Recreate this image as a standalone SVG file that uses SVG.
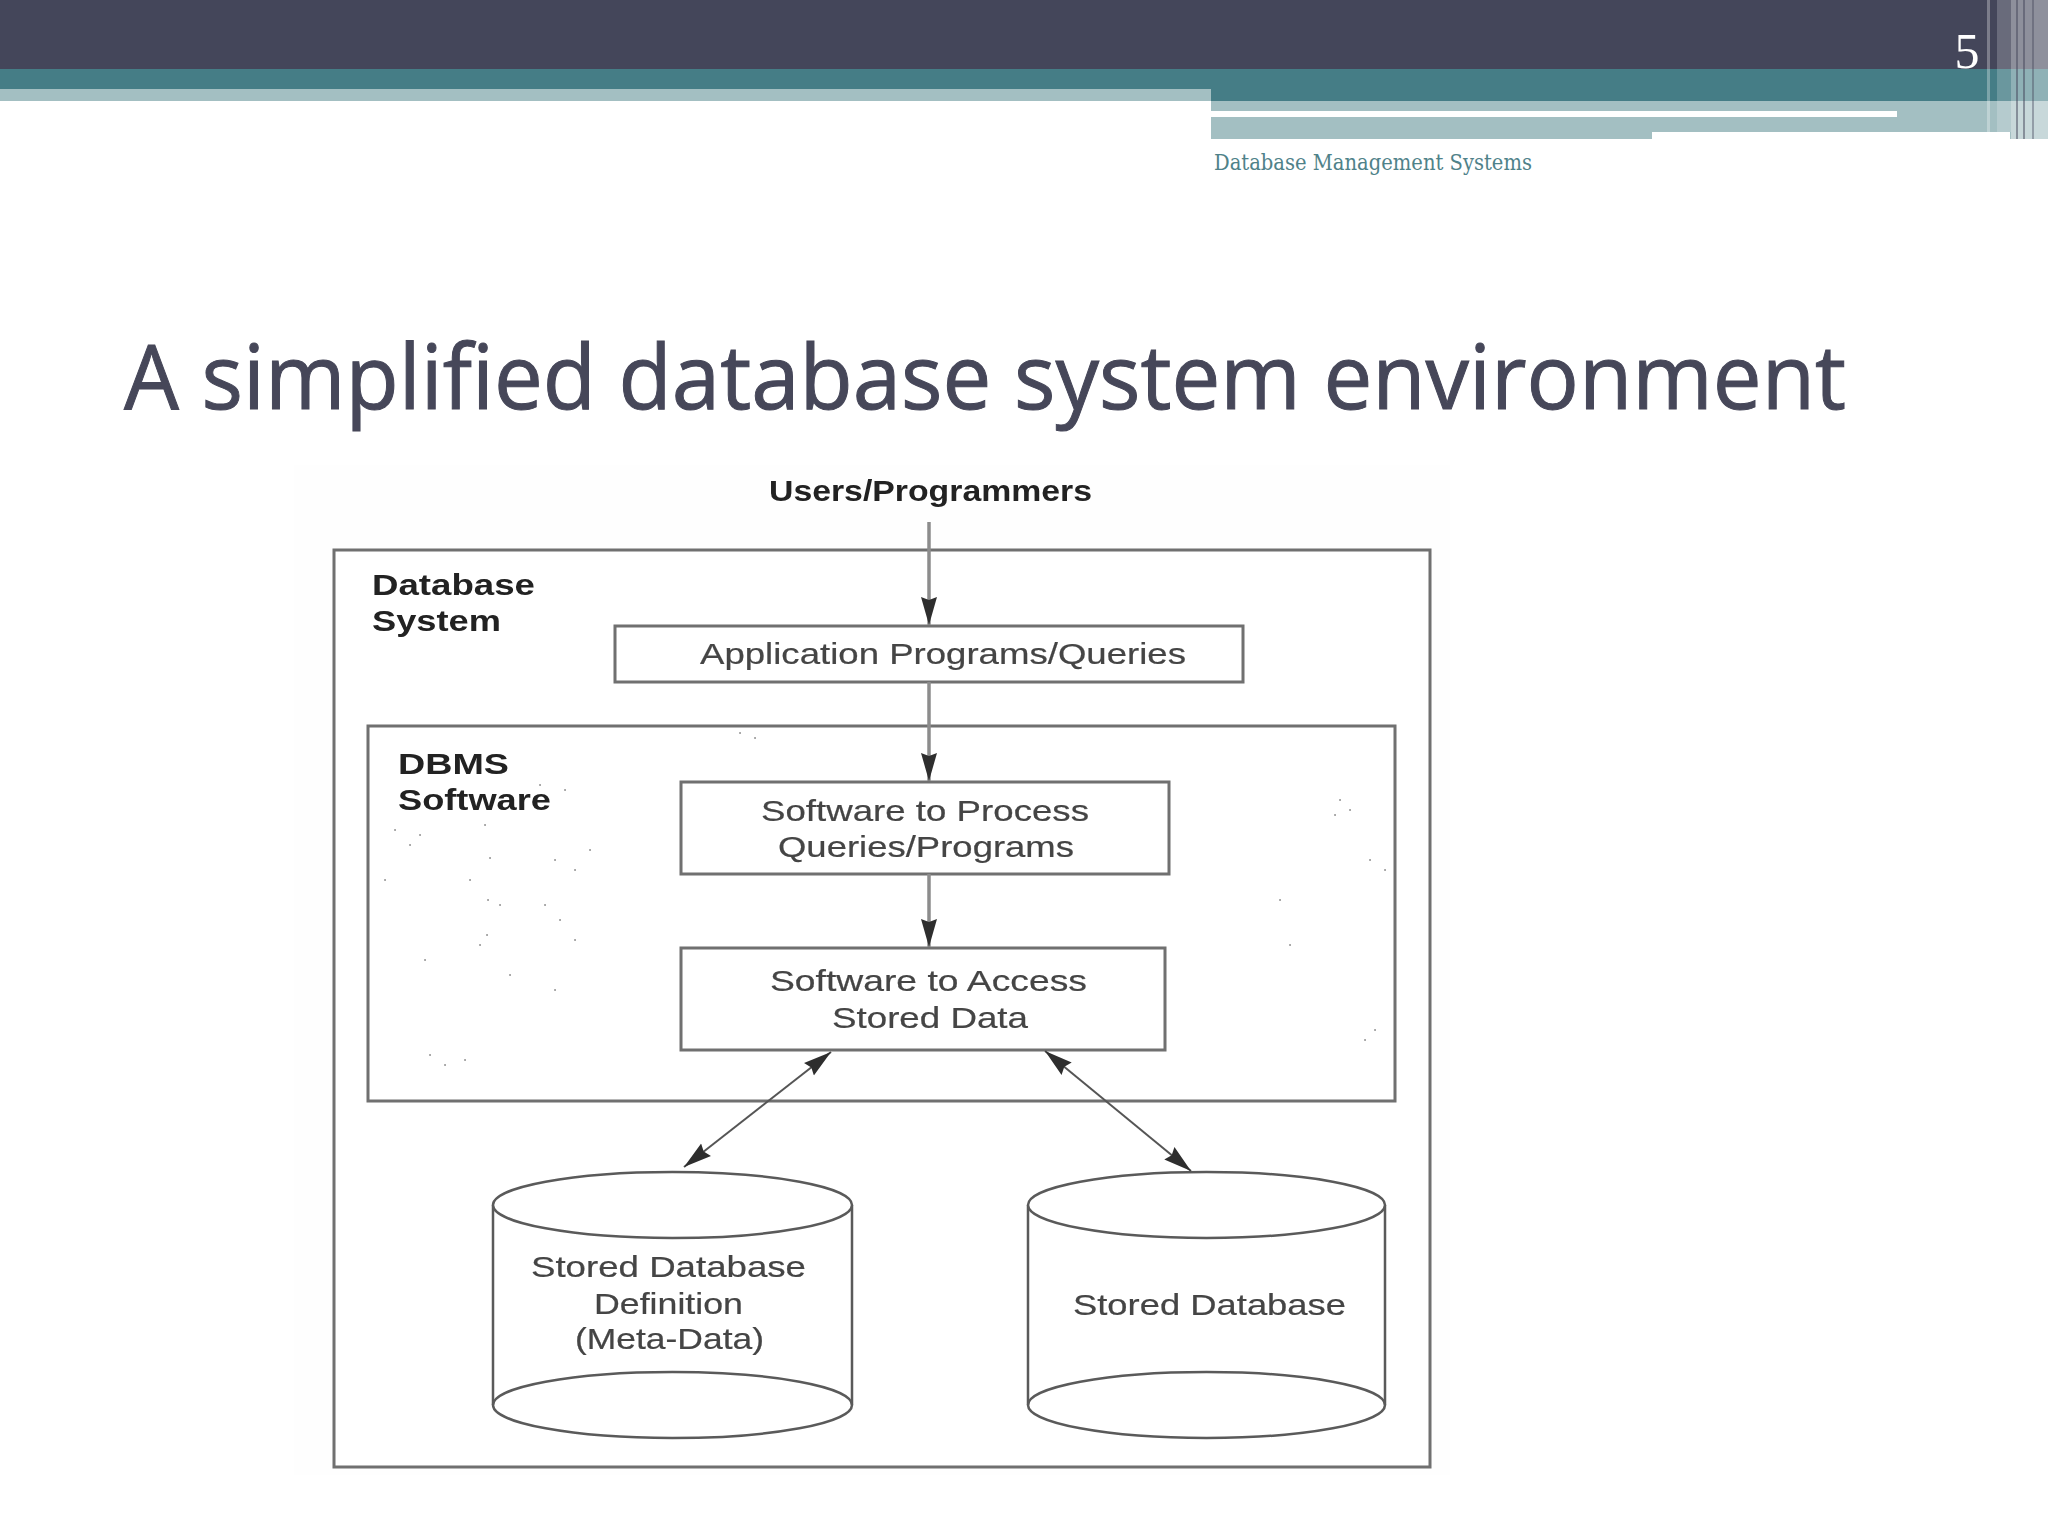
<svg xmlns="http://www.w3.org/2000/svg" width="2048" height="1536" viewBox="0 0 2048 1536">
<defs>
<marker id="head" markerUnits="userSpaceOnUse" markerWidth="30" markerHeight="22" refX="28" refY="10" orient="auto-start-reverse">
<path d="M0 2 L3 10 L0 18 L28 10 Z" fill="#2f2f2f"/>
</marker>
<filter id="soft" x="-2%" y="-2%" width="104%" height="104%"><feGaussianBlur stdDeviation="0.7"/></filter>
</defs>
<style>
.box{fill:#fff;stroke:#6f6f6f;stroke-width:3}
.cyl{fill:#fff;stroke:#5a5a5a;stroke-width:2.5}
.t{font-family:"Liberation Sans",Arial,sans-serif;font-size:29px;fill:#444;stroke:#444;stroke-width:.2}
.b{font-family:"Liberation Sans",Arial,sans-serif;font-size:29px;font-weight:700;fill:#222}
.v{fill:none;stroke:#8c8c8c;stroke-width:3.5;marker-end:url(#head)}
.d{fill:none;stroke:#555;stroke-width:2;marker-start:url(#head);marker-end:url(#head)}
.specks{fill:none;stroke:#999;stroke-width:2;stroke-linecap:round}
</style>
<rect width="2048" height="1536" fill="#fff"/>
<g id="header">
<rect x="0" y="0" width="2048" height="69" fill="#44465a"/>
<rect x="0" y="69" width="2048" height="32" fill="#457d86"/>
<rect x="0" y="89" width="1211" height="12" fill="#a3bfc2"/>
<rect x="1211" y="101" width="837" height="38" fill="#a3bfc2"/>
<rect x="1211" y="111" width="686" height="6" fill="#fff"/>
<rect x="1652" y="132" width="358" height="7" fill="#fff"/>
<g>
<rect x="1987" y="0" width="3" height="132" fill="#fff" opacity=".3"/>
<rect x="1997" y="0" width="14" height="132" fill="#fff" opacity=".2"/>
<rect x="2011" y="0" width="37" height="139" fill="#fff" opacity=".4"/>
<rect x="2016" y="0" width="2" height="139" fill="#44465a" opacity=".5"/>
<rect x="2023" y="0" width="2" height="139" fill="#44465a" opacity=".5"/>
<rect x="2032" y="0" width="2" height="139" fill="#44465a" opacity=".4"/>
</g>
<text x="1967" y="68" text-anchor="middle" font-family="'Liberation Serif','DejaVu Serif',serif" font-size="50" fill="#fff">5</text>
<text x="1214" y="170" font-family="'DejaVu Serif','Liberation Serif',serif" font-size="22" fill="#4f8289" textLength="318" lengthAdjust="spacingAndGlyphs">Database Management Systems</text>
</g>
<text id="title" x="124" y="409" font-family="'Open Sans','Noto Sans',sans-serif" font-size="89" fill="#464759" stroke="#464759" stroke-width="1" textLength="1722" lengthAdjust="spacingAndGlyphs">A simplified database system environment</text>
<g filter="url(#soft)">
<rect x="294" y="465" width="1156" height="1010" fill="#fefefe"/>
<g id="database-system">
<rect class="box" x="334" y="550" width="1096" height="917" fill="none"/>
<text class="b" x="372" y="595" textLength="163" lengthAdjust="spacingAndGlyphs">Database</text>
<text class="b" x="372" y="631" textLength="129" lengthAdjust="spacingAndGlyphs">System</text>
</g>
<g id="dbms-software">
<rect class="box" x="368" y="726" width="1027" height="375"/>
<path class="specks" d="M385 880h.1M395 830h.1M410 845h.1M420 835h.1M470 880h.1M485 825h.1M490 858h.1M500 905h.1M487 935h.1M488 900h.1M540 785h.1M565 790h.1M555 860h.1M575 870h.1M545 905h.1M560 920h.1M590 850h.1M425 960h.1M430 1055h.1M445 1065h.1M465 1060h.1M480 945h.1M510 975h.1M555 990h.1M575 940h.1M740 733h.1M755 738h.1M1340 800h.1M1350 810h.1M1335 815h.1M1370 860h.1M1385 870h.1M1280 900h.1M1290 945h.1M1365 1040h.1M1375 1030h.1"/>
<text class="b" x="398" y="774" textLength="111" lengthAdjust="spacingAndGlyphs">DBMS</text>
<text class="b" x="398" y="810" textLength="153" lengthAdjust="spacingAndGlyphs">Software</text>
</g>
<g id="users">
<text class="b" x="769" y="501" textLength="323" lengthAdjust="spacingAndGlyphs">Users/Programmers</text>
</g>
<g id="application-programs">
<rect class="box" x="615" y="626" width="628" height="56"/>
<text class="t" x="700" y="664" textLength="486" lengthAdjust="spacingAndGlyphs">Application Programs/Queries</text>
</g>
<g id="process">
<rect class="box" x="681" y="782" width="488" height="92"/>
<text class="t" x="761" y="821" textLength="328" lengthAdjust="spacingAndGlyphs">Software to Process</text>
<text class="t" x="778" y="857" textLength="296" lengthAdjust="spacingAndGlyphs">Queries/Programs</text>
</g>
<g id="access">
<rect class="box" x="681" y="948" width="484" height="102"/>
<text class="t" x="770" y="991" textLength="317" lengthAdjust="spacingAndGlyphs">Software to Access</text>
<text class="t" x="832" y="1028" textLength="196" lengthAdjust="spacingAndGlyphs">Stored Data</text>
</g>
<g id="meta-data">
<path class="cyl" d="M493 1205 V1405 A179.500 33 0 0 0 852 1405 V1205"/>
<ellipse class="cyl" cx="672.500" cy="1205" rx="179.500" ry="33"/>
<path class="cyl" d="M493 1405 A179.500 33 0 0 1 852 1405" style="fill:none"/>
<text class="t" x="531" y="1277" textLength="275" lengthAdjust="spacingAndGlyphs">Stored Database</text>
<text class="t" x="594" y="1314" textLength="149" lengthAdjust="spacingAndGlyphs">Definition</text>
<text class="t" x="575" y="1349" textLength="189" lengthAdjust="spacingAndGlyphs">(Meta-Data)</text>
</g>
<g id="stored-database">
<path class="cyl" d="M1028 1205 V1405 A178.500 33 0 0 0 1385 1405 V1205"/>
<ellipse class="cyl" cx="1206.500" cy="1205" rx="178.500" ry="33"/>
<path class="cyl" d="M1028 1405 A178.500 33 0 0 1 1385 1405" style="fill:none"/>
<text class="t" x="1073" y="1315" textLength="273" lengthAdjust="spacingAndGlyphs">Stored Database</text>
</g>
<g id="connectors">
<path class="v" d="M929 522 V625"/>
<path class="v" d="M929 682 V781"/>
<path class="v" d="M929 874 V947"/>
<path class="d" d="M831 1052 L684 1167"/>
<path class="d" d="M1045 1051 L1191 1171"/>
</g>
</g>
</svg>
